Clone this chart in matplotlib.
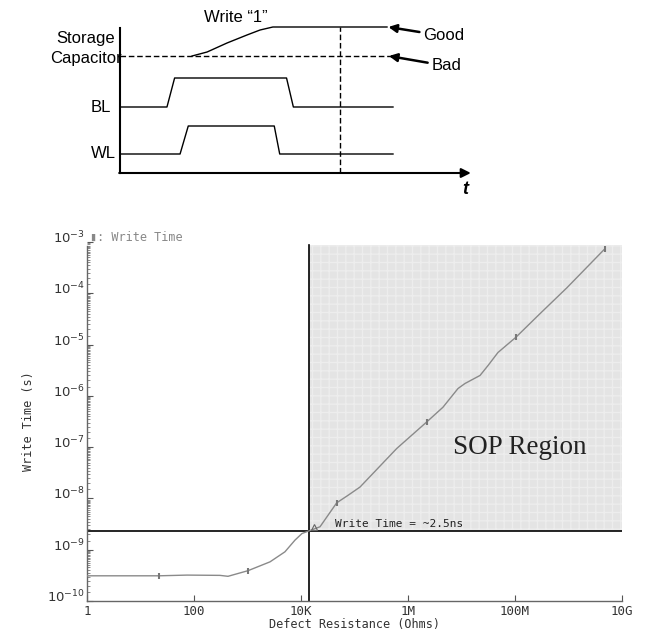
import numpy as np
import matplotlib
matplotlib.use('Agg')
import matplotlib.pyplot as plt
import matplotlib.transforms as mtransforms
from matplotlib.ticker import FixedLocator, LogLocator, NullFormatter

# ---- timing diagram data (t in arbitrary units, levels in arbitrary units)
t_bl = [0, 1.72, 2.0, 6.1, 6.35, 10]
bl = [66, 66, 95, 95, 66, 66]
t_wl = [0, 2.2, 2.5, 5.65, 5.85, 10]
wl = [19, 19, 47, 47, 19, 19]
t_good = [2.64, 3.19, 3.92, 4.65, 5.13, 5.6, 9.78]
good = [117, 121, 130, 138, 143, 146, 146]
t_bad = [0, 10]
bad = [117, 117]
t_sense = 8.06

# ---- write time vs defect resistance
res = [1, 22.2, 74, 306, 432, 1021, 2636, 5010, 7727, 10440, 14130, 22650,
       46450, 75700, 1.27e5, 6.15e5, 2.24e6, 4.5e6, 8.6e6, 1.16e7, 2.22e7,
       3.13e7, 4.8e7, 1.04e8, 2.93e8, 9.4e8, 4.8e9]
wtime = [3.1e-10, 3.1e-10, 3.2e-10, 3.16e-10, 3.03e-10, 3.9e-10, 5.8e-10,
         9.1e-10, 1.54e-9, 2.07e-9, 2.33e-9, 2.8e-9, 8.2e-9, 1.15e-8, 1.67e-8,
         9.4e-8, 3.1e-7, 6.0e-7, 1.39e-6, 1.74e-6, 2.5e-6, 3.9e-6, 7.0e-6,
         1.39e-5, 4.0e-5, 1.29e-4, 7.4e-4]
mark_idx = [1, 5, 12, 16, 23, 26]
r_crit = 1.41e4
t_crit = 2.33e-9
xticks = [1, 1e2, 1e4, 1e6, 1e8, 1e10]
xticklabels = ['1', '100', '10K', '1M', '100M', '10G']
yticks = [1e-10, 1e-9, 1e-8, 1e-7, 1e-6, 1e-5, 1e-4, 1e-3]

fig = plt.figure(figsize=(6.5, 6.31), dpi=100)

# ---------------- top: timing diagram
ax0 = fig.add_axes([0, 431/631, 1, 200/631])
ax0.set_xlim(-4.396, 19.414)
ax0.set_ylim(-27, 173)
ax0.axis('off')
sans = 'Liberation Sans'

ax0.plot(t_bl, bl, color='black', lw=1.0)
ax0.plot(t_wl, wl, color='black', lw=1.0)
ax0.plot(t_good, good, color='black', lw=1.0)
ax0.plot(t_bad, bad, color='black', lw=1.0, ls=(0, (4, 2)))
ax0.plot([t_sense, t_sense], [0, 146], color='black', lw=1.0, ls=(0, (4, 2)))
ax0.plot([0, 0], [0, 145], color='black', lw=1.5)
ax0.annotate('', xy=(12.85, 0), xytext=(-0.03, 0),
             arrowprops=dict(arrowstyle='-|>', color='black', lw=1.5,
                             mutation_scale=14, shrinkA=0, shrinkB=0))
ax0.text(12.64, -17, 't', fontsize=13, style='italic', weight='bold',
         family=sans, ha='center', va='center')
ax0.text(4.25, 155, 'Write \u201c1\u201d', fontsize=12, family=sans,
         ha='center', va='center')
ax0.text(-1.25, 124.5, 'Storage\nCapacitor', fontsize=12, family=sans,
         ha='center', va='center', linespacing=1.35)
ax0.text(-0.7, 66, 'BL', fontsize=12, family=sans, ha='center', va='center')
ax0.text(-0.6, 19, 'WL', fontsize=12, family=sans, ha='center', va='center')
ax0.annotate('Good', xy=(t_good[-1] + 0.05, good[-1]), xytext=(11.12, 137),
             fontsize=12, family=sans, ha='left', va='center',
             arrowprops=dict(arrowstyle='-|>', color='black', lw=1.8,
                             mutation_scale=12, shrinkA=1, shrinkB=0))
ax0.annotate('Bad', xy=(t_bad[-1] - 0.15, bad[-1]), xytext=(11.42, 107),
             fontsize=12, family=sans, ha='left', va='center',
             arrowprops=dict(arrowstyle='-|>', color='black', lw=1.8,
                             mutation_scale=12, shrinkA=1, shrinkB=0))

# ---------------- bottom: write time plot
ax = fig.add_axes([87/650, 30/631, 535/650, 359/631])
ax.set_xscale('log')
ax.set_yscale('log')
ax.set_xlim(1, 1e10)
ax.set_ylim(1e-10, 1e-3)

ax.fill_between([r_crit, 1e10], t_crit, 10**-3.05, facecolor='#e4e4e4',
                edgecolor='#ededed', hatch='++', lw=0, zorder=0)
ax.axhline(t_crit, color='black', lw=1.2, zorder=2)
ax.plot([r_crit, r_crit], [1e-10, 10**-3.05], color='black', lw=1.2, zorder=2)

ax.plot(res, wtime, color='#8a8a8a', lw=1.0, zorder=3)
ax.plot([res[i] for i in mark_idx], [wtime[i] for i in mark_idx],
        ls='none', marker='|', ms=5, mew=1.5, color='#777777', zorder=4)
ax.plot([1.75e4], [2.75e-9], ls='none', marker='^', ms=4, mfc='none',
        mec='#666666', mew=0.8, zorder=4)

mono = 'DejaVu Sans Mono'
ax.text(4.3e4, 3.2e-9, 'Write Time = ~2.5ns', fontsize=8, family=mono,
        color='#222222', ha='left', va='center', zorder=5)
ax.text(6.9e6, 1.0e-7, 'SOP Region', fontsize=19.5, family='Liberation Serif',
        color='#222222', ha='left', va='center', zorder=5)
ax.text(0.005, 1.012, '\u25ae: Write Time', transform=ax.transAxes, fontsize=8.5,
        family=mono, color='#888888', ha='left', va='center')

for s in ['top', 'right']:
    ax.spines[s].set_visible(False)
for s in ['left', 'bottom']:
    ax.spines[s].set_color('#666666')
    ax.spines[s].set_linewidth(1.0)
ax.spines['left'].set_bounds(1e-10, 10**-3.07)

ax.xaxis.set_major_locator(FixedLocator(xticks))
ax.set_xticklabels(xticklabels, family=mono, fontsize=9)
ax.xaxis.set_minor_locator(FixedLocator([]))
ax.yaxis.set_major_locator(FixedLocator(yticks))
ax.yaxis.set_major_formatter(NullFormatter())
# y labels sit a little above their ticks, like the original plotter output
ylab_tr = mtransforms.offset_copy(ax.get_yaxis_transform(), fig=fig,
                                  x=-2, y=4, units='dots')
for v in yticks:
    ax.text(0, v, '$10^{%d}$' % int(round(np.log10(v))), transform=ylab_tr,
            fontsize=9.5, color='#333333', ha='right', va='center')
ax.yaxis.set_minor_locator(LogLocator(base=10, subs=np.arange(1, 10, 0.5), numticks=20))
ax.yaxis.set_minor_formatter(NullFormatter())
ax.tick_params(axis='both', which='major', direction='in', length=4,
               color='#555555', labelcolor='#333333', pad=1)
ax.tick_params(axis='x', which='major', pad=3)
ax.tick_params(axis='y', which='minor', direction='in', length=2,
               color='#777777', width=0.6)

ax.set_xlabel('Defect Resistance (Ohms)', family=mono, fontsize=8.5,
              color='#333333', labelpad=0)
ax.set_ylabel('Write Time (s)', family=mono, fontsize=8.5, color='#333333',
              labelpad=34)

fig.savefig('out.png', dpi=100)
